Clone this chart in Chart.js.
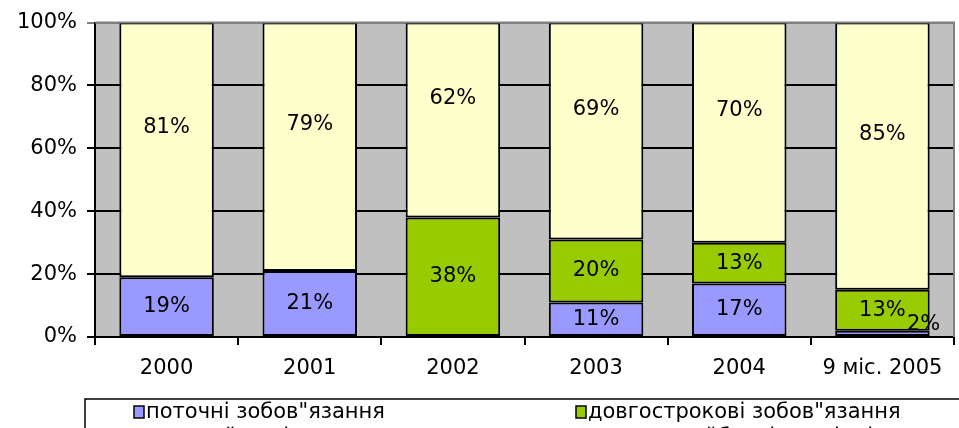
<!DOCTYPE html>
<html>
<head>
<meta charset="utf-8">
<script src="https://cdn.jsdelivr.net/npm/chart.js@4.4.1/dist/chart.umd.min.js"></script>
<style>
  html, body { margin: 0; padding: 0; background: #fff; overflow: hidden; }
  #wrap { width: 959px; height: 428px; overflow: hidden; }
</style>
</head>
<body>
<div id="wrap"><canvas id="chart" width="959" height="460"></canvas></div>
<script>
// категорії (роки)
const categories = ['2000', '2001', '2002', '2003', '2004', '9 міс. 2005'];

// частки у структурі пасиву, %
const currentLiab = [19, 21, 0, 11, 17, 2];
const longTermLiab = [0, 0, 38, 20, 13, 13];
const equity = [81, 79, 62, 69, 70, 85];
const futureIncome = [0, 0, 0, 0, 0, 0];

const seriesNames = [
  'поточні зобов"язання',
  'довгострокові зобов"язання',
  'власний капітал',
  'доходи майбутніх періодів'
];

const yTicks = [0, 20, 40, 60, 80, 100];

const FONT = '"DejaVu Sans", Verdana, sans-serif';
const FONT_SIZE = 21;

// фон області побудови і рамка
const plotArea = {
  id: 'plotArea',
  beforeDraw(chart) {
    const { ctx, chartArea: a } = chart;
    ctx.save();
    ctx.fillStyle = '#C0C0C0';
    ctx.fillRect(a.left, a.top, a.right - a.left, a.bottom - a.top);
    ctx.restore();
  },
  afterDraw(chart) {
    const { ctx, chartArea: a } = chart;
    ctx.save();
    ctx.strokeStyle = '#808080';
    ctx.lineWidth = 2;
    ctx.beginPath();
    ctx.moveTo(a.left, a.top);
    ctx.lineTo(a.right, a.top);
    ctx.lineTo(a.right, a.bottom);
    ctx.stroke();
    ctx.restore();
  }
};

// підписи значень на стовпцях
const barLabels = {
  id: 'barLabels',
  afterDatasetsDraw(chart) {
    const ctx = chart.ctx;
    ctx.save();
    ctx.font = FONT_SIZE + 'px ' + FONT;
    ctx.fillStyle = '#000';
    ctx.textAlign = 'center';
    ctx.textBaseline = 'middle';
    chart.data.datasets.forEach((ds, i) => {
      const meta = chart.getDatasetMeta(i);
      meta.data.forEach((el, j) => {
        const v = ds.data[j];
        if (!v) return;
        let x = el.x;
        let y = (el.y + el.base) / 2 + (ds.labelShift || 0);
        if (Math.abs(el.base - el.y) < 15) {
          // замалий сегмент — підпис зміщено праворуч вгору
          x = el.x + el.width / 2 - 6;
          y -= 9;
        }
        ctx.fillText(v + '%', x, y);
      });
    });
    ctx.restore();
  }
};

// легенда у рамці під графіком (нижній рядок обрізано)
const boxLegend = {
  id: 'boxLegend',
  afterDraw(chart) {
    const ctx = chart.ctx;
    const cols = [134, 576];
    const rows = [412, 437];
    ctx.save();
    ctx.strokeStyle = '#000';
    ctx.lineWidth = 1.5;
    ctx.strokeRect(85, 399, 900, 80);
    ctx.font = FONT_SIZE + 'px ' + FONT;
    ctx.textBaseline = 'middle';
    ctx.textAlign = 'left';
    chart.data.datasets.forEach((ds, i) => {
      const x = cols[i % 2];
      const y = rows[Math.floor(i / 2)];
      ctx.fillStyle = ds.backgroundColor;
      ctx.fillRect(x, y - 6, 10, 12);
      ctx.strokeRect(x, y - 6, 10, 12);
      ctx.fillStyle = '#000';
      ctx.fillText(ds.label, x + 12, y + 1);
    });
    ctx.restore();
  }
};

const makeSet = (label, data, color, shift) => ({
  label,
  data,
  backgroundColor: color,
  borderColor: '#000',
  borderWidth: c => (c.raw ? 2 : 0),
  borderSkipped: false,
  barPercentage: 0.66,
  categoryPercentage: 1,
  labelShift: shift
});

new Chart(document.getElementById('chart'), {
  type: 'bar',
  data: {
    labels: categories,
    datasets: [
      makeSet(seriesNames[0], currentLiab, '#9999FF', 0),
      makeSet(seriesNames[1], longTermLiab, '#99CC00', 0),
      makeSet(seriesNames[2], equity, '#FFFFCC', -22),
      makeSet(seriesNames[3], futureIncome, '#FFFFFF', 0)
    ]
  },
  options: {
    responsive: false,
    devicePixelRatio: 1,
    animation: false,
    layout: { padding: { left: 0, right: 5, top: 22, bottom: 63 } },
    plugins: {
      legend: { display: false },
      tooltip: { enabled: false }
    },
    scales: {
      x: {
        stacked: true,
        afterFit(scale) { scale.height = 60; },
        grid: {
          offset: true,
          drawOnChartArea: false,
          drawTicks: true,
          tickLength: 8,
          color: '#000',
          lineWidth: 2
        },
        border: { display: true, color: '#000', width: 2 },
        ticks: { color: '#000', font: { family: FONT, size: FONT_SIZE }, padding: 11, maxRotation: 0 }
      },
      y: {
        stacked: true,
        min: 0,
        max: 100,
        afterFit(scale) { scale.width = 95; },
        afterBuildTicks(scale) { scale.ticks = yTicks.map(v => ({ value: v })); },
        grid: {
          color: ctx => (ctx.tick && ctx.tick.value === 100 ? '#808080' : '#000'),
          lineWidth: 2,
          tickLength: 8,
          drawTicks: true
        },
        border: { display: true, color: '#000', width: 2 },
        ticks: {
          color: '#000',
          font: { family: FONT, size: FONT_SIZE },
          padding: 10,
          callback: v => v + '%'
        }
      }
    }
  },
  plugins: [plotArea, barLabels, boxLegend]
});
</script>
</body>
</html>
